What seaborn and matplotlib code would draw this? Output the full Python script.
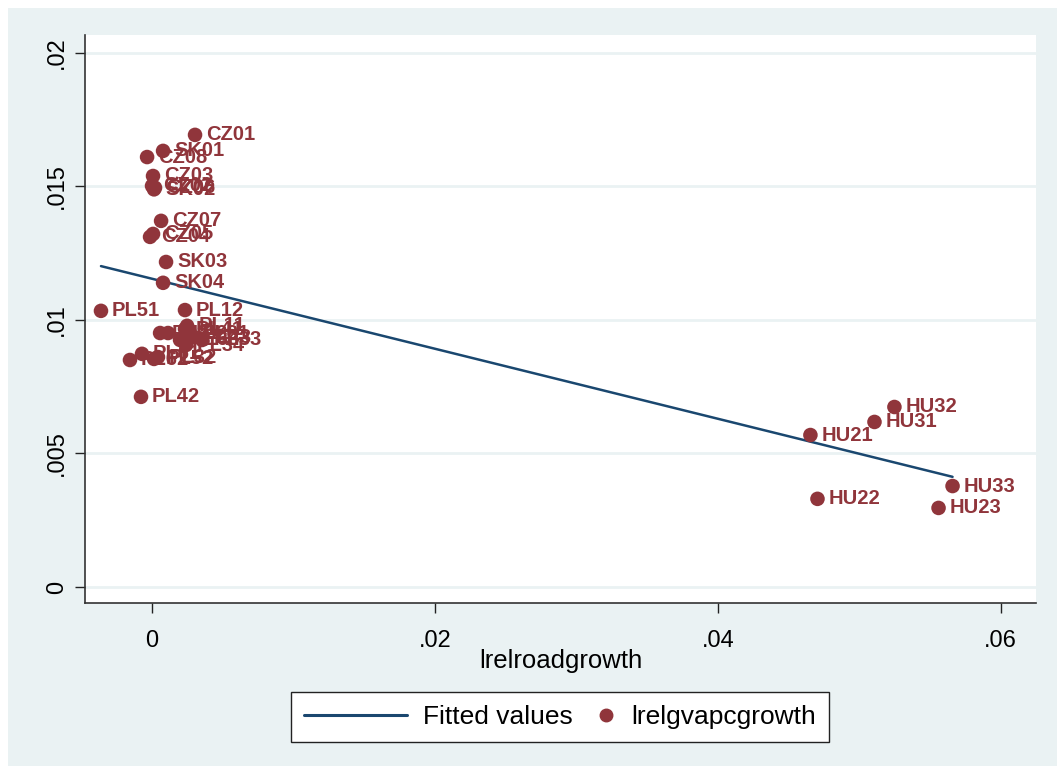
import numpy as np
import pandas as pd
import matplotlib
matplotlib.use("Agg")
import matplotlib.pyplot as plt
from matplotlib.lines import Line2D
from matplotlib.legend_handler import HandlerLine2D
from matplotlib.patches import Rectangle
import seaborn as sns

# Regional growth data (NUTS-2 regions)
regions = [
    "CZ01", "SK01", "CZ08", "CZ03", "CZ02", "CZ06", "SK02", "CZ07", "CZ05", "CZ04",
    "SK03", "SK04", "PL51", "PL12", "PL11", "PL41", "PL21", "PL22", "PL31", "PL43",
    "PL63", "PL33", "PL34", "PL61", "PL32", "PL52", "PL62", "PL42",
    "HU21", "HU22", "HU23", "HU31", "HU32", "HU33",
]
road_growth = [
    0.00304, 0.00078, -0.00035, 0.00007, 0.00000, 0.00021, 0.00014, 0.00064, 0.00007, -0.00014,
    0.00099, 0.00078, -0.00361, 0.00233, 0.00248, 0.00233, 0.00057, 0.00113, 0.00269, 0.00283,
    0.00198, 0.00354, 0.00240, -0.00071, 0.00042, 0.00014, -0.00156, -0.00078,
    0.04655, 0.04705, 0.05561, 0.05108, 0.05249, 0.05660,
]
gva_growth = [
    0.01693, 0.01633, 0.01610, 0.01539, 0.01502, 0.01495, 0.01489, 0.01371, 0.01322, 0.01311,
    0.01217, 0.01139, 0.01034, 0.01037, 0.00978, 0.00966, 0.00951, 0.00951, 0.00951, 0.00936,
    0.00925, 0.00925, 0.00906, 0.00873, 0.00861, 0.00854, 0.00850, 0.00712,
    0.00569, 0.00330, 0.00296, 0.00618, 0.00674, 0.00378,
]

x_ticks = [0, 0.02, 0.04, 0.06]
x_tick_labels = ["0", ".02", ".04", ".06"]
y_ticks = [0, 0.005, 0.01, 0.015, 0.02]
y_tick_labels = ["0", ".005", ".01", ".015", ".02"]

df = pd.DataFrame({"region": regions, "x": road_growth, "y": gva_growth})

# Linear fit (fitted values over the observed range)
slope, intercept = np.polyfit(df["x"], df["y"], 1)
fit = pd.DataFrame({"x": [df["x"].min(), df["x"].max()]})
fit["y"] = intercept + slope * fit["x"]

NAVY = "#1a476f"
MAROON = "#90353b"
BG = "#eaf2f3"

sns.set_theme(style="white")
plt.rcParams["font.family"] = ["Liberation Sans", "DejaVu Sans"]
plt.rcParams["text.color"] = "black"

fig = plt.figure(figsize=(10.64, 7.74), dpi=100, facecolor="white")
fig.patches.append(Rectangle((8 / 1064, 8 / 774), 1049 / 1064, 758 / 774,
                             transform=fig.transFigure, facecolor=BG,
                             edgecolor="none", zorder=-5))
ax = fig.add_axes([85 / 1064, 1 - 603 / 774, (1036 - 85) / 1064, (603 - 35) / 774])
ax.set_facecolor("white")

for yt in y_ticks:
    ax.axhline(yt, color=BG, lw=2.0, zorder=0.5)

sns.lineplot(data=fit, x="x", y="y", ax=ax, color=NAVY, lw=1.8, zorder=2)
sns.scatterplot(data=df, x="x", y="y", ax=ax, color=MAROON, s=110,
                edgecolor="none", linewidth=0, zorder=3)
for _, r in df.iterrows():
    ax.annotate(r["region"], (r["x"], r["y"]), xytext=(8, 0),
                textcoords="offset points", va="center", ha="left",
                fontsize=14.5, fontweight="bold", color=MAROON, zorder=4)

ax.set_xlim(-0.00474, 0.0625)
ax.set_ylim(-0.0006, 0.02067)
ax.set_xticks(x_ticks)
ax.set_xticklabels(x_tick_labels)
ax.set_yticks(y_ticks)
ax.set_yticklabels(y_tick_labels, rotation=90, va="center")
ax.tick_params(axis="both", direction="out", length=7.5, width=1.0, color="#222222",
               labelsize=17, labelcolor="black", left=True, bottom=True)
ax.tick_params(axis="x", pad=12)
ax.tick_params(axis="y", pad=5)
for side in ["top", "right"]:
    ax.spines[side].set_visible(False)
for side in ["left", "bottom"]:
    ax.spines[side].set_color("#333333")
    ax.spines[side].set_linewidth(1.2)
ax.set_xlabel("lrelroadgrowth", fontsize=18.5, labelpad=-2, color="black")
ax.set_ylabel("")


class RightMarkerHandler(HandlerLine2D):
    def get_xdata(self, legend, xdescent, ydescent, width, height, fontsize):
        xm = -xdescent + width - 0.35 * fontsize
        return np.array([xm, xm]), np.array([xm])


line_handle = Line2D([], [], color=NAVY, lw=2.2)
dot_handle = Line2D([], [], color=MAROON, marker="o", ls="none", markersize=9)
leg = fig.legend([line_handle, dot_handle], ["Fitted values", "lrelgvapcgrowth"],
                 handler_map={dot_handle: RightMarkerHandler()},
                 loc="center", bbox_to_anchor=(560 / 1064, 1 - 717 / 774),
                 ncol=2, fontsize=19, handlelength=3.9, handletextpad=0.6,
                 columnspacing=-2.3, frameon=True, fancybox=False,
                 borderpad=0.5, borderaxespad=0)
leg.get_frame().set_edgecolor("#222222")
leg.get_frame().set_linewidth(1.0)
leg.get_frame().set_facecolor("white")
leg.get_frame().set_alpha(1)
for t in leg.get_texts():
    t.set_color("black")

fig.savefig("out.png", dpi=100, facecolor="white")
